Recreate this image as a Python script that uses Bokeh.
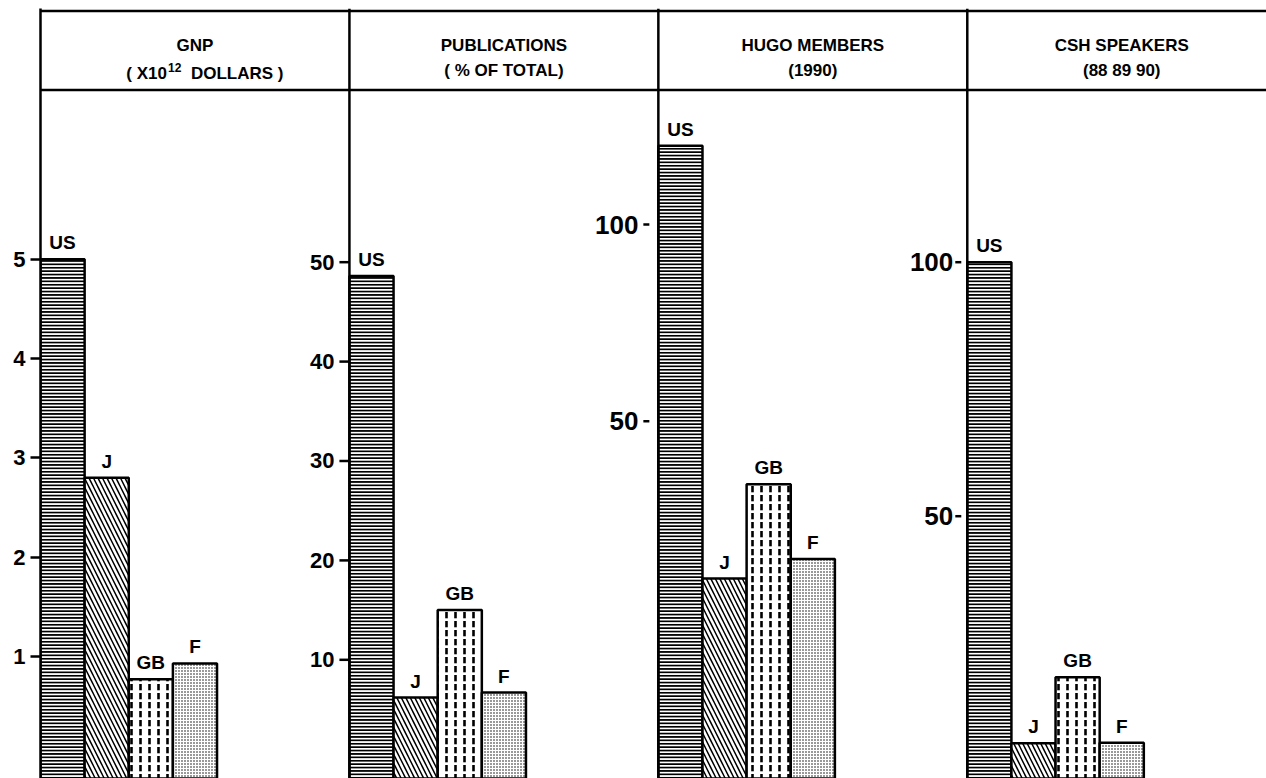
from bokeh.plotting import figure
from bokeh.models import Range1d, LinearAxis, FixedTicker, Span, ColumnDataSource
from bokeh.core.properties import value
from bokeh.embed import file_html
from bokeh.resources import INLINE

# ---------------- data ----------------
countries = ["US", "J", "GB", "F"]
gnp = [5.0, 2.8, 0.77, 0.93]              # x10^12 dollars
publications = [48.6, 6.2, 15.0, 6.7]     # % of total
hugo_members = [120, 10, 34, 15]          # 1990
csh_speakers = [100, 5.3, 18.3, 5.4]      # 88 89 90

titles = ["GNP", "PUBLICATIONS", "HUGO MEMBERS", "CSH SPEAKERS"]
subtitles = ["", "( % OF TOTAL)", "(1990)", "(88 89 90)"]
gnp_unit_parts = ["( X10", "12", "DOLLARS )"]   # "( X10^12 DOLLARS )"

gnp_ticks = [1, 2, 3, 4, 5]
pub_ticks = [10, 20, 30, 40, 50]
hugo_ticks = [50, 100]
csh_ticks = [50, 100]

# ---------------- layout / style ----------------
W, H = 1266, 778
LEFT, TOP = 40, 8
X_END = 27.78
PX_PER_X = (W - LEFT) / X_END
PANEL_OFFSETS = [0, 7, 14, 21]
Y_RANGES = [(-0.229, 7.526), (-1.94, 75.52), (-40.8, 154.9), (-1.63, 149.94)]
FONT = value("Liberation Sans")
LW = 2.5
HEAD_FS = "17px"

HATCH = ["horizontal_line", "left_diagonal_line", "vertical_dash", "dot"]
HATCH_SCALE = [3.4, 9, 9, 3]
HATCH_WEIGHT = [2.0, 1.5, 2.6, 1.4]

series = [gnp, publications, hugo_members, csh_speakers]
ticks = [gnp_ticks, pub_ticks, hugo_ticks, csh_ticks]
# (tick start px, tick end px, label gap px, label font size) relative to axis line
TICK_STYLE = [None, (-10, 0, -15, "22px"), (-15, -9, -20, "26px"), (-12, -6, -14, "26px")]

p = figure(width=W, height=H, x_range=Range1d(0, X_END), y_range=Range1d(H, TOP),
           x_axis_location=None, y_axis_location=None,
           min_border_left=LEFT, min_border_right=0, min_border_top=TOP, min_border_bottom=0,
           output_backend="svg", toolbar_location=None)
p.outline_line_color = None
p.background_fill_color = "white"
p.border_fill_color = "white"
p.grid.visible = False

names = ["p1", "p2", "p3", "p4"]
p.extra_y_ranges = {n: Range1d(a, b) for n, (a, b) in zip(names, Y_RANGES)}

# real axis for first panel
ax = LinearAxis(y_range_name="p1", ticker=FixedTicker(ticks=gnp_ticks))
ax.axis_line_width = LW
ax.axis_line_color = "black"
ax.major_tick_out = 10
ax.major_tick_in = 0
ax.major_tick_line_width = LW
ax.minor_tick_out = 0
ax.minor_tick_in = 0
ax.major_label_standoff = 5
ax.major_label_text_font = "Liberation Sans"
ax.major_label_text_font_style = "bold"
ax.major_label_text_font_size = "22px"
ax.major_label_text_color = "black"
p.add_layout(ax, "left")

# header lines
p.add_layout(Span(location=10.5, dimension="width", line_color="black", line_width=LW))
p.add_layout(Span(location=89.5, dimension="width", line_color="black", line_width=LW))

for k, (off, name, vals, tks) in enumerate(zip(PANEL_OFFSETS, names, series, ticks)):
    start = Y_RANGES[k][0]
    src = ColumnDataSource(dict(
        x=[off + i + 0.5 for i in range(len(countries))],
        top=vals,
        bottom=[start] * len(vals),
        label=countries,
        hatch=HATCH, scale=HATCH_SCALE, weight=HATCH_WEIGHT,
    ))
    p.vbar(x="x", top="top", bottom="bottom", width=1.0, source=src, y_range_name=name,
           fill_color="white", line_color="black", line_width=LW,
           hatch_pattern="hatch", hatch_scale="scale", hatch_weight="weight", hatch_color="black")
    p.text(x="x", y="top", text="label", source=src, y_range_name=name,
           text_font=FONT, text_font_style="bold", text_font_size="19px",
           text_align="center", text_baseline="bottom", y_offset=-6, text_color="black")

    if k > 0:
        p.add_layout(Span(location=off, dimension="height", line_color="black", line_width=LW))
        t0, t1, gap, fs = TICK_STYLE[k]
        p.segment(x0=[off + t0 / PX_PER_X] * len(tks), x1=[off + t1 / PX_PER_X] * len(tks),
                  y0=tks, y1=tks, y_range_name=name, line_color="black", line_width=LW)
        p.text(x=[off] * len(tks), y=tks, text=[str(t) for t in tks], y_range_name=name,
               x_offset=gap, text_font=FONT, text_font_style="bold", text_font_size=fs,
               text_align="right", text_baseline="middle", text_color="black")

# header texts
centers = [o + 3.5 for o in PANEL_OFFSETS]
p.text(x=centers, y=[44.5] * 4, text=titles, text_font=FONT, text_font_style="bold",
       text_font_size=HEAD_FS, text_align="center", text_baseline="alphabetic", text_color="black")
p.text(x=centers[1:], y=[70, 70, 70], text=subtitles[1:], text_font=FONT, text_font_style="bold",
       text_font_size=HEAD_FS, text_align="center", text_baseline="alphabetic", text_color="black")
# GNP unit line with a raised exponent
c0 = centers[0]
p.text(x=[c0], y=[73], text=[gnp_unit_parts[0]], x_offset=-28, text_font=FONT,
       text_font_style="bold", text_font_size=HEAD_FS, text_align="right",
       text_baseline="alphabetic", text_color="black")
p.text(x=[c0], y=[67], text=[gnp_unit_parts[1]], x_offset=-27, text_font=FONT,
       text_font_style="bold", text_font_size="12px", text_align="left",
       text_baseline="alphabetic", text_color="black")
p.text(x=[c0], y=[73], text=[gnp_unit_parts[2]], x_offset=-4, text_font=FONT,
       text_font_style="bold", text_font_size=HEAD_FS, text_align="left",
       text_baseline="alphabetic", text_color="black")

open("out.html", "w").write(file_html(p, INLINE))
